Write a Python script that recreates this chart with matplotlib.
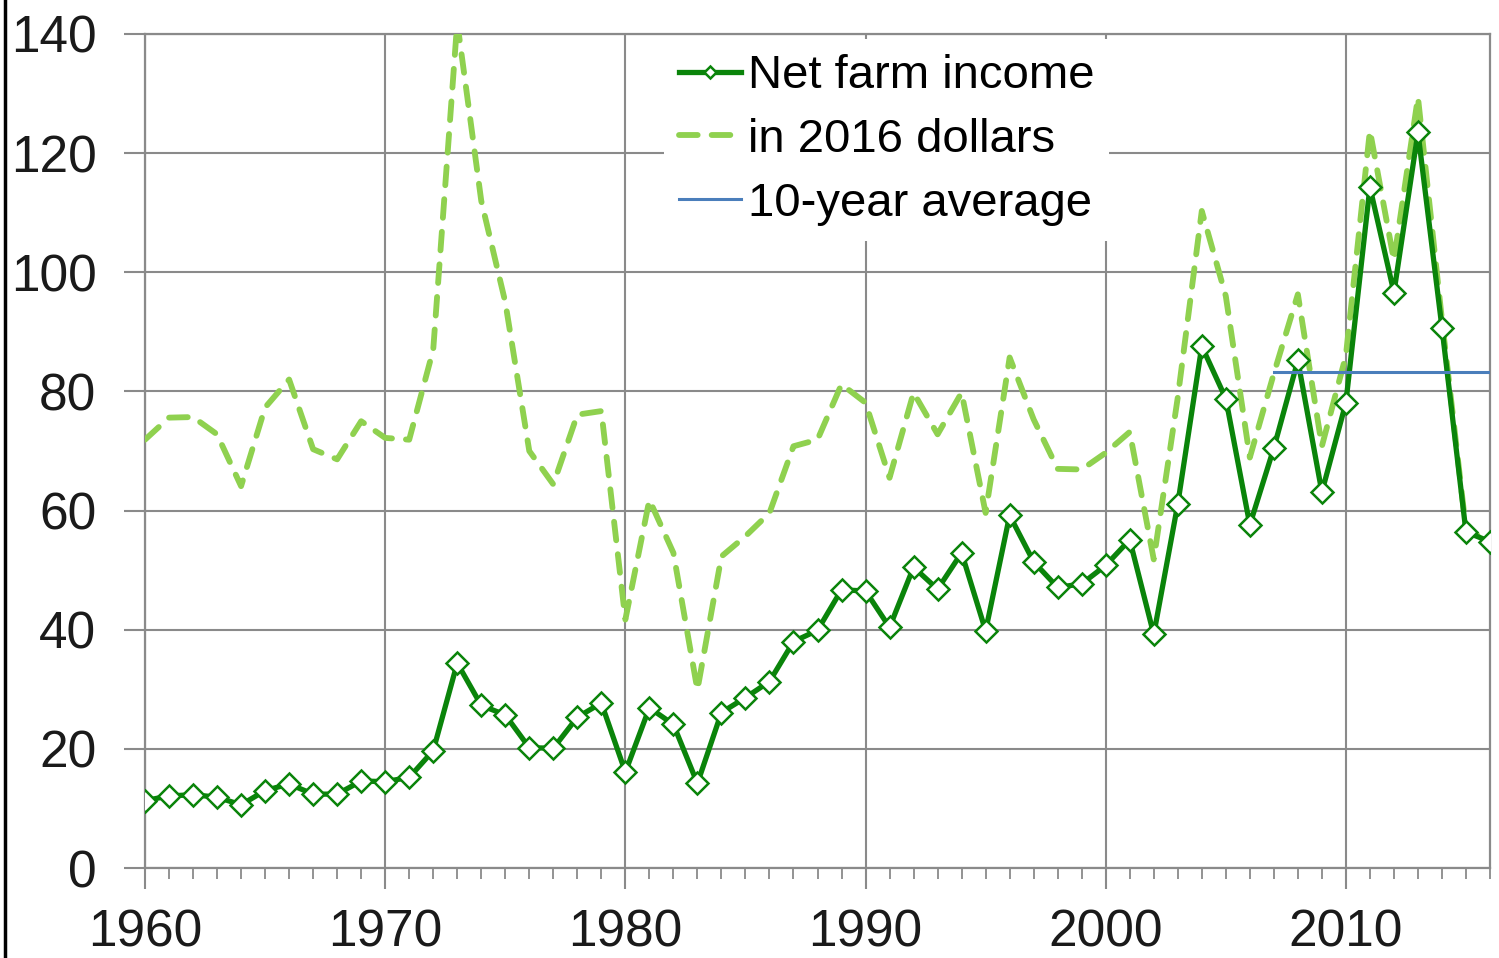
import matplotlib
matplotlib.use('Agg')
import matplotlib.pyplot as plt
from matplotlib.lines import Line2D

years = list(range(1960, 2017))

net_farm_income = [11.3, 12.1, 12.3, 11.9, 10.6, 13.0, 14.1, 12.4, 12.4, 14.6,
                   14.5, 15.2, 19.7, 34.4, 27.3, 25.7, 20.2, 20.1, 25.3, 27.7,
                   16.1, 26.9, 24.1, 14.2, 26.1, 28.6, 31.3, 38.0, 39.9, 46.7,
                   46.5, 40.4, 50.5, 46.8, 52.9, 39.8, 59.2, 51.4, 47.1, 47.7,
                   50.8, 55.1, 39.2, 61.1, 87.6, 78.8, 57.6, 70.5, 85.2, 63.1,
                   78.1, 114.3, 96.6, 123.5, 90.7, 56.4, 54.8]

in_2016_dollars = [71.9, 75.6, 75.7, 72.8, 64.1, 77.3, 82.0, 70.3, 68.6, 75.0,
                   72.2, 71.9, 87.0, 142.0, 112.0, 95.0, 70.0, 64.4, 76.1, 76.7,
                   41.7, 61.8, 52.9, 29.9, 52.3, 55.7, 59.6, 70.8, 71.9, 81.2,
                   78.1, 65.5, 79.8, 72.8, 79.8, 59.6, 85.7, 75.3, 67.0, 66.9,
                   69.7, 73.2, 51.8, 79.0, 110.3, 96.0, 68.9, 83.0, 96.3, 70.8,
                   86.0, 123.8, 102.0, 129.4, 92.0, 56.8, 54.8]

avg_years = [2007, 2016]
avg_value = [83.2, 83.2]

dark_green = '#0a840a'
light_green = '#8fd14f'
blue = '#4a7ebb'
grid_gray = '#8a8a8a'

plt.rcParams['font.family'] = ['Liberation Sans', 'DejaVu Sans']

fig = plt.figure(figsize=(14.99, 9.58), dpi=100)
ax = fig.add_axes([145/1499, 1-868/958, (1490-145)/1499, (868-34)/958])

ax.plot(years, in_2016_dollars, color=light_green, lw=4.2, dashes=(3.2, 2.4),
        dash_capstyle='round', label='in 2016 dollars', zorder=3)
ax.plot(years, net_farm_income, color=dark_green, lw=3.8, marker='D', markersize=11,
        markerfacecolor='white', markeredgecolor=dark_green, markeredgewidth=1.8,
        label='Net farm income', zorder=4)
ax.plot(avg_years, avg_value, color=blue, lw=2.2, label='10-year average', zorder=5)

ax.set_xlim(1960, 2016)
ax.set_ylim(0, 140)
ax.set_xticks(range(1960, 2011, 10))
ax.set_xticks(years, minor=True)
ax.set_yticks(range(0, 141, 20))
ax.grid(True, which='major', color=grid_gray, lw=1.5)
ax.set_axisbelow(True)
for s in ax.spines.values():
    s.set_color(grid_gray)
    s.set_linewidth(1.6)

ax.tick_params(axis='both', which='major', labelsize=37, color=grid_gray,
               width=1.5, length=15, labelcolor='#1a1a1a')
ax.tick_params(axis='y', pad=20)
ax.tick_params(axis='x', pad=14)
ax.tick_params(axis='x', which='minor', length=8, width=1.3, color=grid_gray)

handles, labels = ax.get_legend_handles_labels()
order = [1, 0, 2]
leg = ax.legend([handles[i] for i in order], [labels[i] for i in order],
                loc='upper left', bbox_to_anchor=(664/1499, 1-39/958),
                bbox_transform=fig.transFigure, fontsize=34, frameon=True,
                framealpha=1, edgecolor='none', fancybox=False,
                handlelength=1.3, handletextpad=0.15, labelspacing=0.42,
                borderpad=0.32, borderaxespad=0)
for h in leg.get_lines():
    h.set_markersize(6)

fig.add_artist(Line2D([5/1499, 5/1499], [0, 1], color='black', lw=2.5,
                      transform=fig.transFigure))

fig.savefig('out.png', dpi=100)
